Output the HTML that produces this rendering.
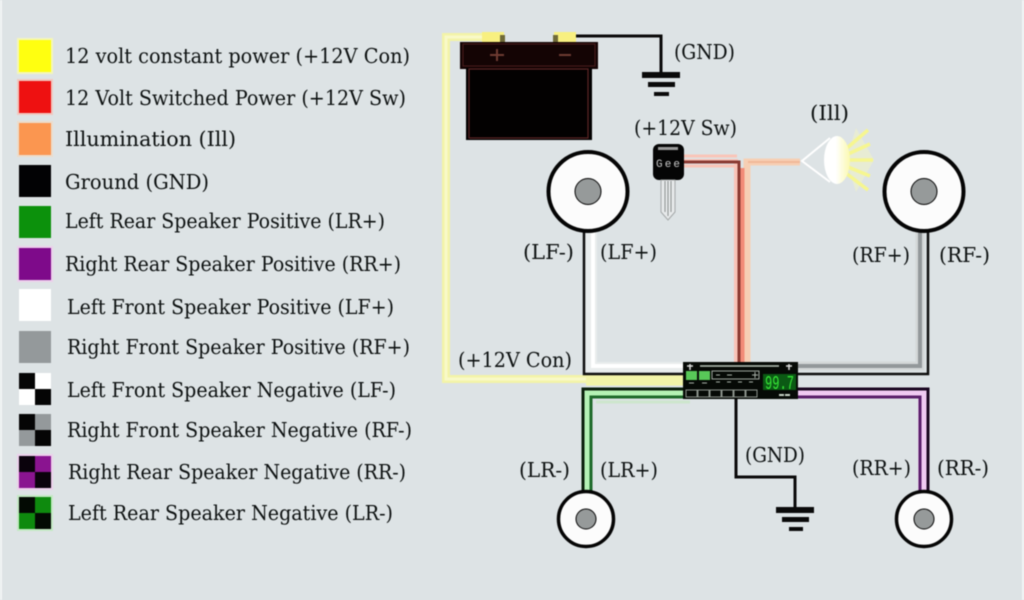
<!DOCTYPE html>
<html>
<head>
<meta charset="utf-8">
<style>
html,body{margin:0;padding:0;width:1024px;height:600px;overflow:hidden;background:#dde3e5}
svg{display:block;filter:blur(.4px)}
text{font-family:"DejaVu Serif","Liberation Serif",serif;fill:#0c1010}
.l{font-size:20.5px}
.w{font-size:20.5px}
</style>
</head>
<body>
<svg width="1024" height="600" viewBox="0 0 1024 600" xmlns="http://www.w3.org/2000/svg">
<rect width="1024" height="600" fill="#dde3e5"/>
<rect x="0" y="0" width="2" height="600" fill="#f2f5f5"/>
<rect x="1022" y="0" width="2" height="600" fill="#f2f5f5"/>

<!-- legend swatches -->
<rect x="17" y="38" width="36" height="36" fill="#f4f6b8"/>
<rect x="19" y="40" width="32" height="32" fill="#ffff10"/>
<rect x="17" y="79" width="36" height="36" fill="#f0c8c0"/>
<rect x="19" y="81" width="32" height="32" fill="#ee1111"/>
<rect x="17" y="121" width="36" height="36" fill="#ecdccc"/>
<rect x="19" y="123" width="32" height="32" fill="#fb9650"/>
<rect x="19" y="165" width="32" height="32" fill="#020204"/>
<rect x="19" y="206" width="32" height="32" fill="#0c910c"/>
<rect x="17" y="246" width="36" height="36" fill="#ecd0ec"/>
<rect x="19" y="248" width="32" height="32" fill="#7e0a8a"/>
<rect x="19" y="289" width="32" height="32" fill="#ffffff"/>
<rect x="19" y="331" width="32" height="32" fill="#94999b"/>
<rect x="19" y="373" width="32" height="32" fill="#fff"/>
<rect x="19" y="373" width="16" height="16" fill="#050505"/>
<rect x="35" y="389" width="16" height="16" fill="#050505"/>
<rect x="19" y="414" width="32" height="32" fill="#94999b"/>
<rect x="19" y="414" width="16" height="16" fill="#050505"/>
<rect x="35" y="430" width="16" height="16" fill="#050505"/>
<rect x="17" y="454" width="36" height="36" fill="#eccfec"/>
<rect x="19" y="456" width="32" height="32" fill="#8a1490"/>
<rect x="19" y="456" width="16" height="16" fill="#0a020c"/>
<rect x="35" y="472" width="16" height="16" fill="#0a020c"/>
<rect x="17" y="495" width="36" height="36" fill="#c4eac4"/>
<rect x="19" y="497" width="32" height="32" fill="#0e8a0e"/>
<rect x="19" y="497" width="16" height="16" fill="#030a03"/>
<rect x="35" y="513" width="16" height="16" fill="#030a03"/>

<!-- legend text -->
<text class="l" x="65" y="63" textLength="345" lengthAdjust="spacingAndGlyphs">12 volt constant power (+12V Con)</text>
<text class="l" x="65" y="105" textLength="341" lengthAdjust="spacingAndGlyphs">12 Volt Switched Power (+12V Sw)</text>
<text class="l" x="65" y="146" textLength="171" lengthAdjust="spacingAndGlyphs">Illumination  (Ill)</text>
<text class="l" x="65" y="189" textLength="144" lengthAdjust="spacingAndGlyphs">Ground  (GND)</text>
<text class="l" x="65" y="228" textLength="320" lengthAdjust="spacingAndGlyphs">Left Rear Speaker Positive (LR+)</text>
<text class="l" x="65" y="271" textLength="336" lengthAdjust="spacingAndGlyphs">Right Rear Speaker Positive (RR+)</text>
<text class="l" x="67" y="314" textLength="327" lengthAdjust="spacingAndGlyphs">Left Front Speaker Positive (LF+)</text>
<text class="l" x="67" y="354" textLength="343" lengthAdjust="spacingAndGlyphs">Right Front Speaker Positive (RF+)</text>
<text class="l" x="67" y="397" textLength="329" lengthAdjust="spacingAndGlyphs">Left Front Speaker Negative (LF-)</text>
<text class="l" x="67" y="437" textLength="345" lengthAdjust="spacingAndGlyphs">Right Front Speaker Negative (RF-)</text>
<text class="l" x="68" y="479" textLength="338" lengthAdjust="spacingAndGlyphs">Right Rear Speaker Negative (RR-)</text>
<text class="l" x="68" y="520" textLength="325" lengthAdjust="spacingAndGlyphs">Left Rear Speaker Negative  (LR-)</text>

<!-- yellow wire -->
<path d="M490 37H446V379H690" fill="none" stroke="#f3f4a8" stroke-width="8"/>
<path d="M490 37H446V379H690" fill="none" stroke="#f8f9c8" stroke-width="3"/>
<path d="M586 381H690" fill="none" stroke="#f2f4a8" stroke-width="9"/>

<!-- battery terminals -->
<rect x="482" y="32" width="22" height="10" fill="#f8f080"/>
<rect x="554" y="32" width="22" height="10" fill="#f8f080"/>
<rect x="500" y="35" width="5" height="8" fill="#6f6a38"/>
<rect x="553" y="35" width="5" height="8" fill="#6f6a38"/>

<!-- battery -->
<rect x="460" y="42" width="138" height="27" fill="#140404"/>
<rect x="463" y="44" width="132" height="22" fill="none" stroke="#4b1c1c" stroke-width="1"/>
<rect x="466" y="68" width="126" height="72" fill="#030101"/>
<rect x="469" y="69" width="119" height="69" fill="none" stroke="#5e2525" stroke-width="1.2"/>
<path d="M490 55h14M497 49v12M559 55h12" stroke="#6e3b32" stroke-width="2" fill="none"/>

<!-- battery ground -->
<path d="M576 36H661V73" fill="none" stroke="#0a0a0a" stroke-width="3"/>
<rect x="642" y="72" width="38" height="6" fill="#0a0a0a"/>
<rect x="648" y="82" width="27" height="5" fill="#0a0a0a"/>
<rect x="654" y="92" width="15" height="4" fill="#0a0a0a"/>

<!-- front-left wires -->
<path d="M585 232V372H690V362H597V232Z" fill="#e9eded"/>
<path d="M593 232V366H690" fill="none" stroke="#fff" stroke-width="4"/>
<path d="M584 232V374H690" fill="none" stroke="#0d0d0d" stroke-width="2.5"/>

<!-- front-right wires -->
<path d="M790 366H920V232" fill="none" stroke="#d3d7d8" stroke-width="9"/>
<path d="M790 366H920V232" fill="none" stroke="#93989a" stroke-width="4"/>
<path d="M790 374H928V232" fill="none" stroke="#0d0d0d" stroke-width="2.5"/>

<!-- rear-left wires -->
<path d="M690 389H583V495H592V398H690Z" fill="#b5f2b5"/>
<path d="M690 389H583V495" fill="none" stroke="#0c200c" stroke-width="3"/>
<path d="M690 397H591V495" fill="none" stroke="#1e6a2a" stroke-width="3"/>
<path d="M596 402H690" stroke="#cde6cd" stroke-width="3" fill="none"/>

<!-- rear-right wires -->
<path d="M790 389H928V495H918V398H790Z" fill="#f0caf2"/>
<path d="M790 389H928V495" fill="none" stroke="#1a0620" stroke-width="3"/>
<path d="M790 397H920V495" fill="none" stroke="#5a1f6a" stroke-width="3"/>

<!-- switched and illumination wires -->
<path d="M683 161H736V365" fill="none" stroke="#f9c4b8" stroke-width="4"/>
<path d="M683 156H737M683 166H735" fill="none" stroke="#f9c4b8" stroke-width="3"/>
<path d="M747 365V162H800" fill="none" stroke="#f6cfb4" stroke-width="7"/>
<path d="M748 162H800" fill="none" stroke="#f2b898" stroke-width="2"/>
<path d="M742.5 365V168" fill="none" stroke="#f28c78" stroke-width="4"/>
<path d="M683 162H739V365" fill="none" stroke="#8a3a32" stroke-width="3"/>

<!-- center ground -->
<path d="M736 397V477H795V508" fill="none" stroke="#0a0a0a" stroke-width="3"/>
<rect x="776" y="507" width="38" height="6" fill="#0a0a0a"/>
<rect x="782" y="517" width="27" height="5" fill="#0a0a0a"/>
<rect x="789" y="527" width="14" height="4" fill="#0a0a0a"/>

<!-- key -->
<rect x="653" y="144" width="31" height="36" rx="6" fill="#050505"/>
<rect x="658" y="147" width="20" height="3" fill="#9a9a9a"/>
<text x="656" y="167" style="font-family:'Liberation Mono',monospace;font-size:11px;fill:#c8c8c8" textLength="24">Gee</text>
<path d="M661 180H675V212L668 220L661 212Z" fill="#e6e9ea" stroke="#a4a8a8" stroke-width="1"/>
<path d="M665 181V212M668 181V216M671 181V212" stroke="#8b8f8f" stroke-width="1"/>

<!-- lamp -->
<path d="M856 128L874 160L856 192L846 160Z" fill="#fbfbb4" opacity=".35"/>
<path d="M847 148L868 130M848 154L870 144M848 160L873 160M848 167L870 176M847 174L868 190" stroke="#f6f690" stroke-width="3.5" fill="none"/>
<path d="M830 138L802 161L830 182" fill="none" stroke="#fff" stroke-width="2"/>
<defs><linearGradient id="g" x1="0" x2="1" y1="0" y2="0"><stop offset=".45" stop-color="#fff"/><stop offset="1" stop-color="#fbf9b0"/></linearGradient></defs>
<ellipse cx="837" cy="160" rx="13" ry="24" fill="url(#g)"/>

<!-- speakers -->
<g stroke="#050505">
<circle cx="588" cy="191.5" r="39.5" fill="#fcfcfc" stroke-width="4"/>
<circle cx="588" cy="191.5" r="13" fill="#969a9a" stroke-width="1"/>
<circle cx="924" cy="191.5" r="39.5" fill="#fcfcfc" stroke-width="4"/>
<circle cx="924" cy="191.5" r="13" fill="#969a9a" stroke-width="1"/>
<circle cx="586" cy="519" r="27.5" fill="#fcfcfc" stroke-width="3.5"/>
<circle cx="586" cy="519" r="10" fill="#969a9a" stroke-width="1"/>
<circle cx="924" cy="519" r="27.5" fill="#fcfcfc" stroke-width="3.5"/>
<circle cx="924" cy="519" r="10" fill="#969a9a" stroke-width="1"/>
</g>

<!-- head unit -->
<rect x="683" y="362" width="115" height="37" fill="#060a06"/>
<path d="M700 366H779" stroke="#b8c4b8" stroke-width="1.5"/>
<path d="M690 364v6M687 366h6M789 364v6M786 366h6" stroke="#ddd" stroke-width="1.5"/>
<rect x="686" y="371" width="11" height="9" fill="#58c858"/>
<rect x="699" y="371" width="11" height="9" fill="#58c858"/>
<rect x="712" y="371" width="47" height="8" fill="none" stroke="#a0a8a0" stroke-width="1"/>
<path d="M716 375h4M727 375h5M752 375h6M755 372v6M716 382h4M727 382h4M738 382h4M749 382h4M689 383h5M702 383h5" stroke="#a8b0a8" stroke-width="1"/>
<rect x="763" y="374" width="33" height="16" fill="#0b5a14"/>
<text x="765" y="389" style="font-family:'Liberation Mono',monospace;font-size:19px;fill:#37e737" textLength="29" lengthAdjust="spacingAndGlyphs">99.7</text>
<path d="M779 395h5M785 395h5" stroke="#c8d4c8" stroke-width="2"/>
<g fill="none" stroke="#8c948c" stroke-width="1">
<rect x="686" y="390" width="11" height="7"/><rect x="698" y="390" width="11" height="7"/><rect x="710" y="390" width="11" height="7"/><rect x="722" y="390" width="11" height="7"/><rect x="734" y="390" width="11" height="7"/><rect x="746" y="390" width="11" height="7"/>
</g>

<!-- wire labels -->
<text class="w" x="674" y="59" textLength="61" lengthAdjust="spacingAndGlyphs">(GND)</text>
<text class="w" x="634" y="135" textLength="103" lengthAdjust="spacingAndGlyphs">(+12V Sw)</text>
<text class="w" x="810" y="120" textLength="39" lengthAdjust="spacingAndGlyphs">(Ill)</text>
<text class="w" x="523" y="259" textLength="51" lengthAdjust="spacingAndGlyphs">(LF-)</text>
<text class="w" x="600" y="259" textLength="57" lengthAdjust="spacingAndGlyphs">(LF+)</text>
<text class="w" x="852" y="262" textLength="58" lengthAdjust="spacingAndGlyphs">(RF+)</text>
<text class="w" x="939" y="262" textLength="51" lengthAdjust="spacingAndGlyphs">(RF-)</text>
<text class="w" x="458" y="367" textLength="114" lengthAdjust="spacingAndGlyphs">(+12V Con)</text>
<text class="w" x="519" y="477" textLength="51" lengthAdjust="spacingAndGlyphs">(LR-)</text>
<text class="w" x="600" y="477" textLength="58" lengthAdjust="spacingAndGlyphs">(LR+)</text>
<text class="w" x="745" y="462" textLength="60" lengthAdjust="spacingAndGlyphs">(GND)</text>
<text class="w" x="852" y="475" textLength="59" lengthAdjust="spacingAndGlyphs">(RR+)</text>
<text class="w" x="937" y="475" textLength="52" lengthAdjust="spacingAndGlyphs">(RR-)</text>
</svg>
</body>
</html>
